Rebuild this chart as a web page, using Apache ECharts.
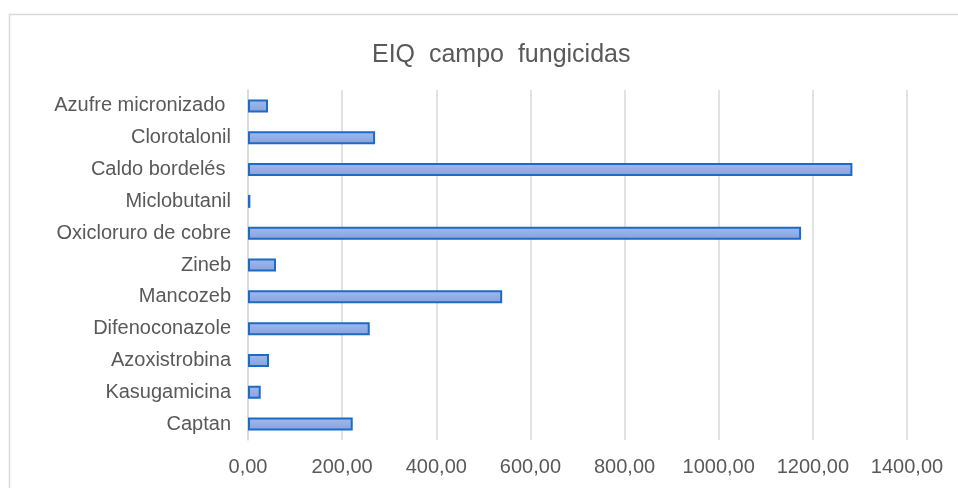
<!DOCTYPE html>
<html>
<head>
<meta charset="utf-8">
<script src="https://cdn.jsdelivr.net/npm/echarts@6/dist/echarts.min.js"></script>
<style>html,body{margin:0;padding:0;background:#fff}#c{width:958px;height:488px}</style>
</head>
<body>
<div id="c"></div>
<script>
const categories = ['Azufre micronizado ', 'Clorotalonil', 'Caldo bordelés ', 'Miclobutanil', 'Oxicloruro de cobre', 'Zineb', 'Mancozeb', 'Difenoconazole', 'Azoxistrobina', 'Kasugamicina', 'Captan'];
const values = [42.5, 270, 1284, 5, 1175, 59.5, 540, 258.6, 44.6, 27, 222.5];
const titleText = 'EIQ  campo  fungicidas';

const chart = echarts.init(document.getElementById('c'), null, {renderer: 'canvas'});
chart.setOption({
  animation: false,
  backgroundColor: '#ffffff',
  title: {
    text: titleText,
    left: 367, top: 38,
    textStyle: {fontFamily: 'Liberation Sans, Arial, sans-serif', fontSize: 25, fontWeight: 'normal', color: '#595959'}
  },
  graphic: [{
    type: 'rect', left: 7, top: 12, silent: true,
    shape: {width: 1000, height: 520},
    style: {fill: 'none', stroke: '#d9d9d9', lineWidth: 1.5}
  }],
  grid: {left: 248, right: 51, top: 90, bottom: 48, containLabel: false},
  xAxis: {
    type: 'value', min: 0, max: 1400, interval: 200,
    axisLine: {show: false}, axisTick: {show: false},
    splitLine: {lineStyle: {color: '#d9d9d9', width: 1.5}},
    axisLabel: {
      margin: 17, color: '#595959', fontSize: 20,
      fontFamily: 'Liberation Sans, Arial, sans-serif',
      formatter: v => v.toFixed(2).replace('.', ',')
    }
  },
  yAxis: {
    type: 'category', data: categories, inverse: true,
    axisLine: {show: true, lineStyle: {color: '#d9d9d9', width: 1.5}},
    axisTick: {show: false},
    axisLabel: {margin: 17, color: '#595959', fontSize: 20, fontFamily: 'Liberation Sans, Arial, sans-serif'}
  },
  series: [{
    type: 'bar', data: values, barWidth: 13,
    itemStyle: {
      color: new echarts.graphic.LinearGradient(0, 0, 0, 1, [
        {offset: 0, color: '#a3b9ec'}, {offset: 1, color: '#87a1dc'}
      ]),
      borderColor: '#1a6cc8', borderWidth: 2
    }
  }]
});
</script>
</body>
</html>
